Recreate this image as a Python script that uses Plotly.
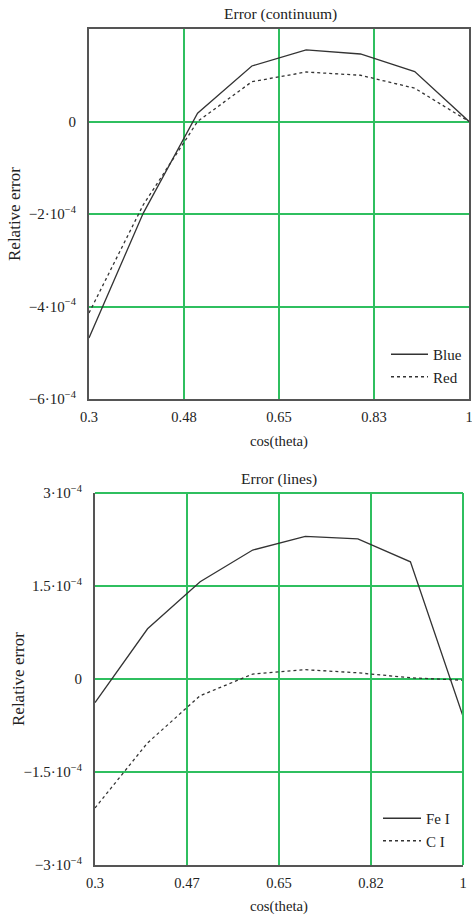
import plotly.graph_objects as go

# cos(theta) sample points shared by both panels
cos_theta = [0.3, 0.4, 0.5, 0.6, 0.7, 0.8, 0.9, 1.0]

# Relative error of the continuum (units of 1e-4)
blue_err = [-4.68, -1.98, 0.18, 1.20, 1.55, 1.46, 1.08, 0.0]
red_err = [-4.14, -1.80, 0.00, 0.86, 1.07, 1.00, 0.72, 0.0]

# Relative error of the lines (units of 1e-4)
fe_err = [-0.38, 0.81, 1.57, 2.08, 2.30, 2.26, 1.89, -0.60]
ci_err = [-2.08, -1.03, -0.27, 0.08, 0.15, 0.10, 0.02, -0.02]

# Axis ticks
x_ticks = [0.3, 0.475, 0.65, 0.825, 1.0]
x_text_top = ["0.3", "0.48", "0.65", "0.83", "1"]
x_text_bot = ["0.3", "0.47", "0.65", "0.82", "1"]
y_ticks_top = [-6, -4, -2, 0]
y_text_top = ["\u22126\u00b710<sup>\u22124</sup>", "\u22124\u00b710<sup>\u22124</sup>",
              "\u22122\u00b710<sup>\u22124</sup>", "0"]
y_ticks_bot = [-3, -1.5, 0, 1.5, 3]
y_text_bot = ["\u22123\u00b710<sup>\u22124</sup>", "\u22121.5\u00b710<sup>\u22124</sup>", "0",
              "1.5\u00b710<sup>\u22124</sup>", "3\u00b710<sup>\u22124</sup>"]

SCALE = 1e-4
W, H = 472, 919
FONT = "Liberation Serif, Times New Roman, serif"
INK = "#222222"
GRID = "#2fbf5f"
FRAME = "#555555"


def px_x(p):
    return p / W


def px_y(p):
    return 1 - p / H


fig = go.Figure()

fig.add_trace(go.Scatter(x=cos_theta, y=[v * SCALE for v in blue_err], name="Blue",
                         mode="lines", line=dict(color="#333333", width=1.3),
                         xaxis="x", yaxis="y", legend="legend"))
fig.add_trace(go.Scatter(x=cos_theta, y=[v * SCALE for v in red_err], name="Red",
                         mode="lines", line=dict(color="#333333", width=1.3, dash="3px,3px"),
                         xaxis="x", yaxis="y", legend="legend"))
fig.add_trace(go.Scatter(x=cos_theta, y=[v * SCALE for v in fe_err], name="Fe I",
                         mode="lines", line=dict(color="#333333", width=1.3),
                         xaxis="x2", yaxis="y2", legend="legend2"))
fig.add_trace(go.Scatter(x=cos_theta, y=[v * SCALE for v in ci_err], name="C I",
                         mode="lines", line=dict(color="#333333", width=1.3, dash="3px,3px"),
                         xaxis="x2", yaxis="y2", legend="legend2"))

x_font = dict(family=FONT, size=14.5, color=INK)
y_font = dict(family=FONT, size=15, color=INK)

common_x = dict(range=[0.3, 1.0], tickvals=x_ticks, ticks="", showgrid=True,
                gridcolor=GRID, gridwidth=1.5, zeroline=False, tickfont=x_font,
                ticklabelstandoff=4, ticklabeloverflow="allow",
                fixedrange=True, automargin=False)
common_y = dict(ticks="", showgrid=True, gridcolor=GRID, gridwidth=1.5, zeroline=False,
                tickfont=y_font, ticklabelstandoff=8, fixedrange=True, automargin=False)

legend_font = dict(family=FONT, size=15, color=INK)

fig.update_layout(
    width=W, height=H,
    margin=dict(l=0, r=0, t=0, b=0, pad=0, autoexpand=False),
    paper_bgcolor="white", plot_bgcolor="white",
    font=dict(family=FONT, color=INK),
    xaxis=dict(domain=[px_x(89), px_x(469)], anchor="y", ticktext=x_text_top,
               showline=True, mirror=True, linecolor=FRAME, linewidth=2, **common_x),
    yaxis=dict(domain=[px_y(399), px_y(29)], anchor="x",
               range=[-6 * SCALE, 2 * SCALE],
               tickvals=[v * SCALE for v in y_ticks_top], ticktext=y_text_top,
               showline=True, mirror=True, linecolor=FRAME, linewidth=2, **common_y),
    xaxis2=dict(domain=[px_x(95), px_x(463)], anchor="y2", ticktext=x_text_bot,
                showline=True, linecolor=FRAME, linewidth=2, **common_x),
    yaxis2=dict(domain=[px_y(865), px_y(493)], anchor="x2",
                range=[-3 * SCALE, 3 * SCALE],
                tickvals=[v * SCALE for v in y_ticks_bot], ticktext=y_text_bot,
                showline=True, linecolor=FRAME, linewidth=2, **common_y),
    legend=dict(x=px_x(386), y=px_y(338), xanchor="left", yanchor="top",
                bgcolor="rgba(0,0,0,0)", font=legend_font,
                tracegroupgap=0, itemwidth=37),
    legend2=dict(x=px_x(378), y=px_y(802), xanchor="left", yanchor="top",
                 bgcolor="rgba(0,0,0,0)", font=legend_font,
                 tracegroupgap=0, itemwidth=38),
    showlegend=True,
)

# Green top and right edges of the lower panel
fig.add_shape(type="line", xref="x2 domain", yref="y2 domain", x0=0, x1=1, y0=1, y1=1,
              line=dict(color=GRID, width=2))
fig.add_shape(type="line", xref="x2 domain", yref="y2 domain", x0=1, x1=1, y0=0, y1=1,
              line=dict(color=GRID, width=2))

# Titles and axis labels
ann = [
    dict(text="Error (continuum)", x=px_x(280), y=px_y(14), size=15.5),
    dict(text="Error (lines)", x=px_x(279), y=px_y(479), size=15.5),
    dict(text="cos(theta)", x=px_x(279), y=px_y(441), size=14.7),
    dict(text="cos(theta)", x=px_x(279), y=px_y(906), size=14.7),
    dict(text="Relative error", x=px_x(15), y=px_y(214), size=17, textangle=-90),
    dict(text="Relative error", x=px_x(18), y=px_y(679), size=17, textangle=-90),
]
for a in ann:
    size = a.pop("size")
    fig.add_annotation(xref="paper", yref="paper", showarrow=False,
                       xanchor="center", yanchor="middle",
                       font=dict(family=FONT, size=size, color=INK), **a)

fig.write_html("out.html")
